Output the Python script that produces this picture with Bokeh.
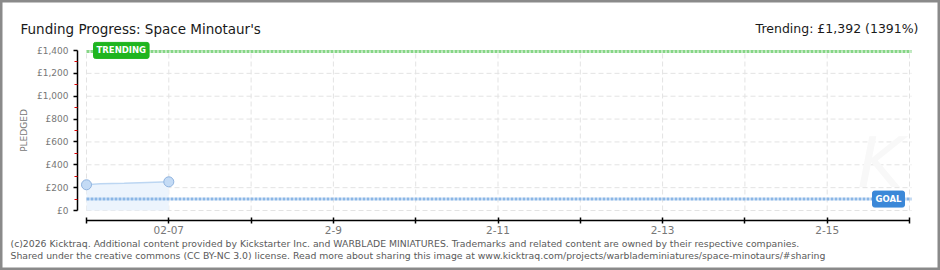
import pandas as pd
from bokeh.plotting import figure
from bokeh.models import FixedTicker, Label, Range1d
from bokeh.embed import file_html
from bokeh.resources import INLINE

# ---------------- data ----------------
TITLE = "Funding Progress: Space Minotaur's"
TREND_TEXT = "Trending: £1,392 (1391%)"
FOOTER_1 = ("(c)2026 Kicktraq. Additional content provided by Kickstarter Inc. and WARBLADE MINIATURES. "
            "Trademarks and related content are owned by their respective companies.")
FOOTER_2 = ("Shared under the creative commons (CC BY-NC 3.0) license. Read more about sharing this image at "
            "www.kicktraq.com/projects/warblademiniatures/space-minotaurs/#sharing")
Y_AXIS_LABEL = "PLEDGED"

DAILY_DATES = ["2026-02-06", "2026-02-07"]
DAILY_PLEDGED = [225, 251]

TRACK_TIMES = ["2026-02-06 00:00", "2026-02-06 04:00", "2026-02-06 11:00",
               "2026-02-06 20:00", "2026-02-07 00:00"]
TRACK_PLEDGED = [225, 233, 239, 248, 251]

GOAL = 100
TRENDING = 1392

X_TICK_DATES = ["2026-02-06", "2026-02-07", "2026-02-08", "2026-02-09", "2026-02-10",
                "2026-02-11", "2026-02-12", "2026-02-13", "2026-02-14", "2026-02-15",
                "2026-02-16"]
X_TICK_LABELS = ["", "02-07", "", "2-9", "", "2-11", "", "2-13", "", "2-15", ""]

Y_TICKS = [0, 200, 400, 600, 800, 1000, 1200, 1400]
Y_LABELS = ["£0", "£200", "£400", "£600", "£800", "£1,000", "£1,200", "£1,400"]
Y_MINOR = [100, 300, 500, 700, 900, 1100, 1300]

# ---------------- layout constants (pixels) ----------------
W, H = 940, 270
PX_X0 = 86          # first date tick
PX_PER_DAY = 82.3
PX_Y0 = 210         # pledged = 0
PX_Y_TOP = 50       # pledged = 1400
AXIS_X_PX = 77      # y axis line
AXIS_Y_PX = 220     # x axis line

EPOCH = pd.Timestamp("1970-01-01")
MS = pd.Timedelta(milliseconds=1)

daily_x = pd.to_datetime(DAILY_DATES)
track_x = pd.to_datetime(TRACK_TIMES)
tick_x = pd.to_datetime(X_TICK_DATES)
tick_ms = [float((d - EPOCH) // MS) for d in tick_x]

day = pd.Timedelta(days=1)
x_start = tick_x[0] - day * (PX_X0 / PX_PER_DAY)
x_end = tick_x[0] + day * ((W - PX_X0) / PX_PER_DAY)
line_end = tick_x[0] + day * ((911 - PX_X0) / PX_PER_DAY)

val_per_px = (Y_TICKS[-1] - Y_TICKS[0]) / (PX_Y0 - PX_Y_TOP)
y_start = -(H - PX_Y0) * val_per_px
y_end = Y_TICKS[-1] + PX_Y_TOP * val_per_px

yaxis_loc = float((tick_x[0] - day * ((PX_X0 - AXIS_X_PX) / PX_PER_DAY) - EPOCH) // MS)
xaxis_loc = -(AXIS_Y_PX - PX_Y0) * val_per_px

p = figure(width=W, height=H, x_axis_type="datetime", title=None,
           x_range=Range1d(x_start, x_end), y_range=Range1d(y_start, y_end),
           output_backend="svg", toolbar_location=None,
           min_border_left=0, min_border_right=0, min_border_top=0, min_border_bottom=0)
p.outline_line_color = "#8a8a8a"
p.outline_line_width = 4
p.background_fill_color = "white"
p.border_fill_color = "white"
p.xgrid.visible = False
p.ygrid.visible = False

# grid (dashed)
p.segment(x0=tick_x, y0=Y_TICKS[0], x1=tick_x, y1=Y_TICKS[-1],
          line_color="#e3e3e3", line_width=1, line_dash="5 3")
p.segment(x0=[tick_x[0]] * len(Y_TICKS), y0=Y_TICKS, x1=[line_end] * len(Y_TICKS), y1=Y_TICKS,
          line_color="#e3e3e3", line_width=1, line_dash="5 3")

# watermark
p.add_layout(Label(x=tick_x[-1], y=60, text="K", text_align="right", x_offset=-6,
                   text_font="DejaVu Sans", text_font_style="italic", text_font_size="70px",
                   text_color="#f8f8f8"))

# pledged area + line + points
p.varea(x=track_x, y1=0, y2=TRACK_PLEDGED, fill_color="#ecf4fd", fill_alpha=1)
p.line(x=track_x, y=TRACK_PLEDGED, line_color="#bcd6f2", line_width=1.5)
p.scatter(x=daily_x, y=DAILY_PLEDGED, size=10, fill_color="#c4dbf5",
          line_color="#8fb3df", line_width=1)

# goal and trending lines
p.segment(x0=[tick_x[0]], y0=[GOAL], x1=[line_end], y1=[GOAL],
          line_color="#8ab6e6", line_width=3, line_dash="3 1")
p.segment(x0=[tick_x[0]], y0=[TRENDING], x1=[line_end], y1=[TRENDING],
          line_color="#86d686", line_width=3, line_dash="3 1")

p.add_layout(Label(x=tick_x[0], y=TRENDING, x_offset=7, y_offset=1, text="TRENDING",
                   text_baseline="middle", text_align="left",
                   text_font="DejaVu Sans", text_font_size="8.5px", text_font_style="bold",
                   text_color="white", background_fill_color="#1fb51f",
                   border_line_color="#1fb51f", padding=3, border_radius=2))
p.add_layout(Label(x=tick_x[-1], y=GOAL, x_offset=-5, y_offset=0, text="GOAL",
                   text_baseline="middle", text_align="right",
                   text_font="DejaVu Sans", text_font_size="8.5px", text_font_style="bold",
                   text_color="white", background_fill_color="#3b88d8",
                   border_line_color="#3b88d8", padding=3, border_radius=2))

# axes (pinned inside the canvas)
xa = p.xaxis[0]
xa.fixed_location = xaxis_loc
xa.ticker = FixedTicker(ticks=tick_ms, minor_ticks=[])
xa.major_label_overrides = {t: lab for t, lab in zip(tick_ms, X_TICK_LABELS)}
xa.bounds = (tick_x[0], tick_x[-1])
xa.axis_line_color = "black"
xa.axis_line_width = 1.5
xa.major_tick_line_color = "black"
xa.major_tick_line_width = 1.5
xa.major_tick_in = 3
xa.major_tick_out = 3
xa.minor_tick_line_color = None
xa.major_label_standoff = 2
xa.major_label_text_font = "DejaVu Sans"
xa.major_label_text_font_size = "10.5px"
xa.major_label_text_color = "#777777"

ya = p.yaxis[0]
ya.fixed_location = yaxis_loc
ya.ticker = FixedTicker(ticks=Y_TICKS, minor_ticks=Y_MINOR)
ya.major_label_overrides = {t: lab for t, lab in zip(Y_TICKS, Y_LABELS)}
ya.bounds = (Y_TICKS[0], Y_TICKS[-1])
ya.axis_line_color = "black"
ya.axis_line_width = 1.5
ya.major_tick_line_color = "black"
ya.major_tick_line_width = 1.5
ya.major_tick_in = 0
ya.major_tick_out = 4
ya.minor_tick_line_color = "#dd0000"
ya.minor_tick_in = 0
ya.minor_tick_out = 3
ya.major_label_standoff = 5
ya.major_label_text_font = "DejaVu Sans"
ya.major_label_text_font_size = "9px"
ya.major_label_text_color = "#777777"
ya.axis_label = Y_AXIS_LABEL
ya.axis_label_standoff = 5
ya.axis_label_text_font = "DejaVu Sans"
ya.axis_label_text_font_size = "9px"
ya.axis_label_text_font_style = "normal"
ya.axis_label_text_color = "#777777"

# header and footer texts (screen units: x from left, y from bottom)
p.add_layout(Label(x=20, y=H - 28, x_units="screen", y_units="screen",
                   text=TITLE, text_font="DejaVu Sans", text_font_size="13.5px",
                   text_color="#1a1a1a", text_baseline="alphabetic"))
p.add_layout(Label(x=918, y=H - 28, x_units="screen", y_units="screen",
                   text=TREND_TEXT, text_font="DejaVu Sans", text_font_size="12.5px",
                   text_color="#1a1a1a", text_align="right", text_baseline="alphabetic"))
p.add_layout(Label(x=10, y=H - 243, x_units="screen", y_units="screen",
                   text=FOOTER_1, text_font="DejaVu Sans", text_font_size="9.3px",
                   text_color="#5a5a5a", text_baseline="middle"))
p.add_layout(Label(x=10, y=H - 255, x_units="screen", y_units="screen",
                   text=FOOTER_2, text_font="DejaVu Sans", text_font_size="9.3px",
                   text_color="#5a5a5a", text_baseline="middle"))

open("out.html", "w").write(file_html(p, INLINE))
